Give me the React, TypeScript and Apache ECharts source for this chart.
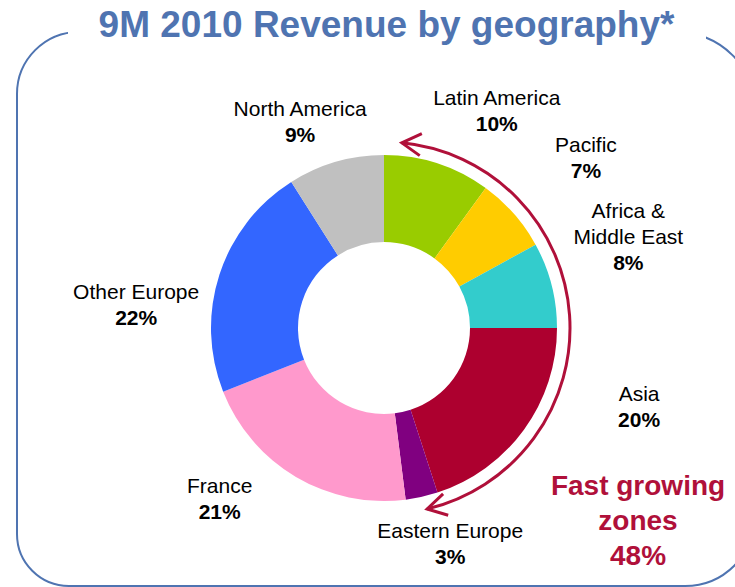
import React, { useEffect, useRef } from 'react';
import * as echarts from 'echarts';

// ---- data ----
const regions = [
  'Latin America',
  'Pacific',
  'Africa &\nMiddle East',
  'Asia',
  'Eastern Europe',
  'France',
  'Other Europe',
  'North America',
];
const shares = [10, 7, 8, 20, 3, 21, 22, 9];
const fastGrowingRegions = ['Latin America', 'Pacific', 'Africa &\nMiddle East', 'Asia', 'Eastern Europe'];
const titleText = '9M 2010 Revenue by geography*';
const calloutText = 'Fast growing\nzones';

// ---- styles ----
const sliceColors = ['#99CC00', '#FFCC00', '#33CCCC', '#AD002F', '#800080', '#FF99CC', '#3366FF', '#C0C0C0'];
// label placement: [angle nudge from slice middle (deg), distance from centre (px)]
const labelPlacement: [number, number][] = [
  [9.4, 245],
  [1.3, 264],
  [-6.2, 261],
  [-18.8, 267],
  [-4.5, 225],
  [13.3, 237],
  [-12.5, 249],
  [-5.9, 223],
];
const CX = 384;
const CY = 328;
const R_IN = 86;
const R_OUT = 173;
const ARROW_R = 186;
const ARROW_FROM = 5.5; // compass degrees
const ARROW_TO = 166.6;
const ARROW_COLOR = '#B0103A';
const TITLE_COLOR = '#4F74B1';
const FONT = "'Liberation Sans', Arial, sans-serif";

function arrowHead(theta: number, forward: 1 | -1): number[][] {
  const t = (theta * Math.PI) / 180;
  const tip = [CX + ARROW_R * Math.sin(t), CY - ARROW_R * Math.cos(t)];
  const tx = Math.cos(t);
  const ty = Math.sin(t);
  const bx = -forward * tx;
  const by = -forward * ty;
  const base = Math.atan2(by, bx);
  const spread = (30 * Math.PI) / 180;
  const len = 22;
  const w1 = [tip[0] + len * Math.cos(base - spread), tip[1] + len * Math.sin(base - spread)];
  const w2 = [tip[0] + len * Math.cos(base + spread), tip[1] + len * Math.sin(base + spread)];
  return [w1, tip, w2];
}

export default function App() {
  const ref = useRef<HTMLDivElement>(null);

  useEffect(() => {
    if (!ref.current) return;
    const chart = echarts.init(ref.current, null, { renderer: 'svg' });

    const total = shares.reduce((a, b) => a + b, 0);
    const mids: number[] = [];
    let acc = 0;
    shares.forEach((v) => {
      mids.push(((acc + v / 2) / total) * 360);
      acc += v;
    });
    const fastShare = regions.reduce(
      (s, r, i) => (fastGrowingRegions.includes(r) ? s + shares[i] : s),
      0
    );

    const toE = (deg: number) => ((deg - 90) * Math.PI) / 180;

    chart.setOption({
      animation: false,
      backgroundColor: '#ffffff',
      graphic: [
        {
          type: 'rect',
          z: 0,
          shape: { x: 17, y: 32, width: 738, height: 554, r: [62, 78, 70, 52] },
          style: { fill: 'none', stroke: '#4F74B1', lineWidth: 2 },
        },
        {
          type: 'rect',
          z: 1,
          shape: { x: 68, y: 14, width: 638, height: 32 },
          style: { fill: '#ffffff' },
        },
        {
          type: 'text',
          z: 2,
          x: 386.5,
          y: 24,
          style: {
            text: titleText,
            fill: TITLE_COLOR,
            fontSize: 37,
            fontWeight: 'bold',
            fontFamily: FONT,
            align: 'center',
            verticalAlign: 'middle',
          },
        },
        {
          type: 'arc',
          z: 3,
          shape: {
            cx: CX,
            cy: CY,
            r: ARROW_R,
            startAngle: toE(ARROW_FROM),
            endAngle: toE(ARROW_TO),
            clockwise: true,
          },
          style: { stroke: ARROW_COLOR, lineWidth: 3, fill: 'none' },
        },
        {
          type: 'polyline',
          z: 3,
          shape: { points: arrowHead(ARROW_FROM, -1) },
          style: { stroke: ARROW_COLOR, lineWidth: 3, fill: 'none', lineJoin: 'miter' },
        },
        {
          type: 'polyline',
          z: 3,
          shape: { points: arrowHead(ARROW_TO, 1) },
          style: { stroke: ARROW_COLOR, lineWidth: 3, fill: 'none', lineJoin: 'miter' },
        },
        {
          type: 'text',
          z: 3,
          x: 638,
          y: 520,
          style: {
            text: calloutText + '\n' + fastShare + '%',
            fill: ARROW_COLOR,
            fontSize: 28,
            fontWeight: 'bold',
            fontFamily: FONT,
            lineHeight: 35,
            align: 'center',
            verticalAlign: 'middle',
          },
        },
      ],
      series: [
        {
          type: 'pie',
          center: [CX, CY],
          radius: [R_IN, R_OUT],
          startAngle: 90,
          clockwise: true,
          avoidLabelOverlap: false,
          itemStyle: { borderWidth: 0 },
          emphasis: { disabled: true },
          data: regions.map((name, i) => ({
            name,
            value: shares[i],
            itemStyle: { color: sliceColors[i] },
          })),
          label: {
            show: true,
            position: 'outside',
            color: '#000',
            fontFamily: FONT,
            formatter: (p: any) =>
              String(p.name)
                .split('\n')
                .map((s: string) => '{n|' + s + '}')
                .join('\n') +
              '\n{p|' + p.value + '%}',
            rich: {
              n: { fontSize: 21, fontFamily: FONT, color: '#000', lineHeight: 26 },
              p: { fontSize: 21, fontFamily: FONT, color: '#000', fontWeight: 'bold', lineHeight: 26 },
            },
          },
          labelLine: { show: false },
          labelLayout: (params: any) => {
            const i = params.dataIndex;
            const [da, dist] = labelPlacement[i];
            const a = ((mids[i] + da) * Math.PI) / 180;
            return {
              x: CX + dist * Math.sin(a),
              y: CY - dist * Math.cos(a),
              align: 'center',
              verticalAlign: 'middle',
            };
          },
        },
      ],
    });

    return () => chart.dispose();
  }, []);

  return (
    <div
      ref={ref}
      style={{ position: 'absolute', left: 0, top: 0, width: 735, height: 587, background: '#fff' }}
    />
  );
}
